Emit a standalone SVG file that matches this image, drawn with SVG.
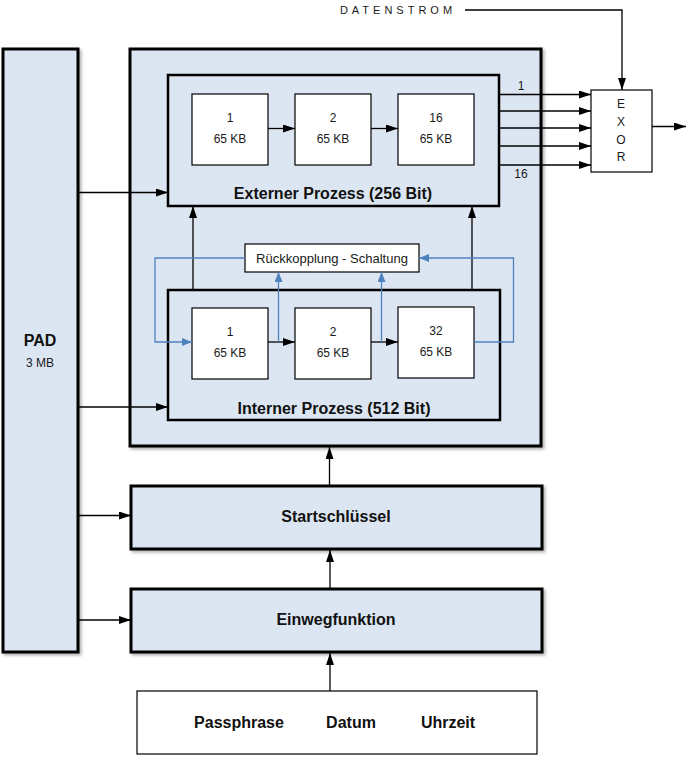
<svg xmlns="http://www.w3.org/2000/svg" width="688" height="760" viewBox="0 0 688 760">
<defs>
<style>
.thick{fill:#dce6f2;stroke:#000;stroke-width:3;filter:url(#sh)}
.mid{fill:#dce6f2;stroke:#000;stroke-width:2.5}
.wbox{fill:#fff;stroke:#000;stroke-width:1.2}
.ln{fill:none;stroke:#000;stroke-width:1.3}
.bl{fill:none;stroke:#4f81bd;stroke-width:1.3}
.t{font-family:"Liberation Sans",Arial,sans-serif;font-size:12px;fill:#1a1a1a;text-anchor:middle;dominant-baseline:central}
.b{font-family:"Liberation Sans",Arial,sans-serif;font-size:16px;font-weight:bold;fill:#111;text-anchor:middle;dominant-baseline:central}
</style>
<filter id="sh" x="-10%" y="-10%" width="130%" height="130%">
<feDropShadow dx="2" dy="2" stdDeviation="1.5" flood-color="#000" flood-opacity="0.3"/>
</filter>
<marker id="ar" markerUnits="userSpaceOnUse" markerWidth="12" markerHeight="8" refX="12" refY="4" orient="auto">
<path d="M0,0 L12,4 L0,8 z" fill="#000"/>
</marker>
<marker id="ab" markerUnits="userSpaceOnUse" markerWidth="10" markerHeight="8" refX="10" refY="4" orient="auto">
<path d="M0,0 L10,4 L0,8 z" fill="#4f81bd"/>
</marker>
</defs>

<g id="pad">
<rect class="thick" x="3" y="49" width="75" height="603"/>
<text class="b" x="40" y="340">PAD</text>
<text class="t" x="40" y="363">3 MB</text>
</g>

<g id="outer">
<rect class="thick" x="130" y="49" width="411" height="397"/>
</g>

<g id="extern">
<rect class="mid" x="168" y="75" width="331" height="131"/>
<text class="b" x="333" y="193">Externer Prozess (256 Bit)</text>
</g>
<g id="ext1"><rect class="wbox" x="192" y="94" width="76" height="71"/><text class="t" x="230" y="118">1</text><text class="t" x="230" y="139">65 KB</text></g>
<g id="ext2"><rect class="wbox" x="295" y="94" width="76" height="71"/><text class="t" x="333" y="118">2</text><text class="t" x="333" y="139">65 KB</text></g>
<g id="ext16"><rect class="wbox" x="398" y="94" width="76" height="71"/><text class="t" x="436" y="118">16</text><text class="t" x="436" y="139">65 KB</text></g>

<g id="intern">
<rect class="mid" x="168" y="290" width="332" height="130"/>
<text class="b" x="334" y="408">Interner Prozess (512 Bit)</text>
</g>
<g id="int1"><rect class="wbox" x="192" y="308" width="76" height="71"/><text class="t" x="230" y="332">1</text><text class="t" x="230" y="353">65 KB</text></g>
<g id="int2"><rect class="wbox" x="295" y="308" width="76" height="71"/><text class="t" x="333" y="332">2</text><text class="t" x="333" y="353">65 KB</text></g>
<g id="int32"><rect class="wbox" x="398" y="307" width="76" height="71"/><text class="t" x="436" y="331">32</text><text class="t" x="436" y="352">65 KB</text></g>

<g id="rueck">
<rect class="wbox" x="245" y="244" width="174" height="28"/>
<text class="t" x="332" y="258" style="font-size:13px">Rückkopplung - Schaltung</text>
</g>

<g id="start">
<rect class="thick" x="131" y="486" width="411" height="63"/>
<text class="b" x="336" y="516">Startschlüssel</text>
</g>
<g id="einweg">
<rect class="thick" x="131" y="589" width="411" height="63"/>
<text class="b" x="336" y="619">Einwegfunktion</text>
</g>
<g id="input">
<rect class="wbox" x="137" y="691" width="400" height="63"/>
<text class="b" x="239" y="722">Passphrase</text>
<text class="b" x="351" y="722">Datum</text>
<text class="b" x="448" y="722">Uhrzeit</text>
</g>

<g id="exor">
<rect class="wbox" x="591" y="90" width="61" height="82"/>
<text class="t" x="621" y="104">E</text>
<text class="t" x="621" y="122">X</text>
<text class="t" x="621" y="140">O</text>
<text class="t" x="621" y="157">R</text>
</g>
<g id="datenstrom">
<text x="398" y="10" style="font-family:'Liberation Sans',Arial,sans-serif;font-size:11px;fill:#1a1a1a;letter-spacing:4px;text-anchor:middle;dominant-baseline:central">DATENSTROM</text>
</g>

<g id="connectors">
<path class="ln" d="M268,128.5 H295" marker-end="url(#ar)"/>
<path class="ln" d="M371,128.5 H398" marker-end="url(#ar)"/>
<path class="ln" d="M268,342 H295" marker-end="url(#ar)"/>
<path class="ln" d="M371,342 H398" marker-end="url(#ar)"/>
<path class="ln" d="M78,192.5 H168" marker-end="url(#ar)"/>
<path class="ln" d="M78,407 H168" marker-end="url(#ar)"/>
<path class="ln" d="M78,515.5 H131" marker-end="url(#ar)"/>
<path class="ln" d="M78,620 H131" marker-end="url(#ar)"/>
<path class="ln" d="M193,290 V206" marker-end="url(#ar)"/>
<path class="ln" d="M472,290 V206" marker-end="url(#ar)"/>
<path class="ln" d="M329.5,486 V447" marker-end="url(#ar)"/>
<path class="ln" d="M330,589 V550" marker-end="url(#ar)"/>
<path class="ln" d="M330,691 V653" marker-end="url(#ar)"/>
<path class="ln" d="M499,94.5 H591" marker-end="url(#ar)"/>
<path class="ln" d="M499,111 H591" marker-end="url(#ar)"/>
<path class="ln" d="M499,128 H591" marker-end="url(#ar)"/>
<path class="ln" d="M499,146 H591" marker-end="url(#ar)"/>
<path class="ln" d="M499,165 H591" marker-end="url(#ar)"/>
<path class="ln" d="M652,126.5 H686" marker-end="url(#ar)"/>
<path class="ln" d="M465,10 H622 V90" marker-end="url(#ar)"/>
<text class="t" x="521" y="86">1</text>
<text class="t" x="521" y="174">16</text>
<path class="bl" d="M245,258 H155 V342 H192" marker-end="url(#ab)"/>
<path class="bl" d="M278.5,342 V272" marker-end="url(#ab)"/>
<path class="bl" d="M381.5,342 V272" marker-end="url(#ab)"/>
<path class="bl" d="M474,342 H513.5 V258 H419" marker-end="url(#ab)"/>
</g>
</svg>
